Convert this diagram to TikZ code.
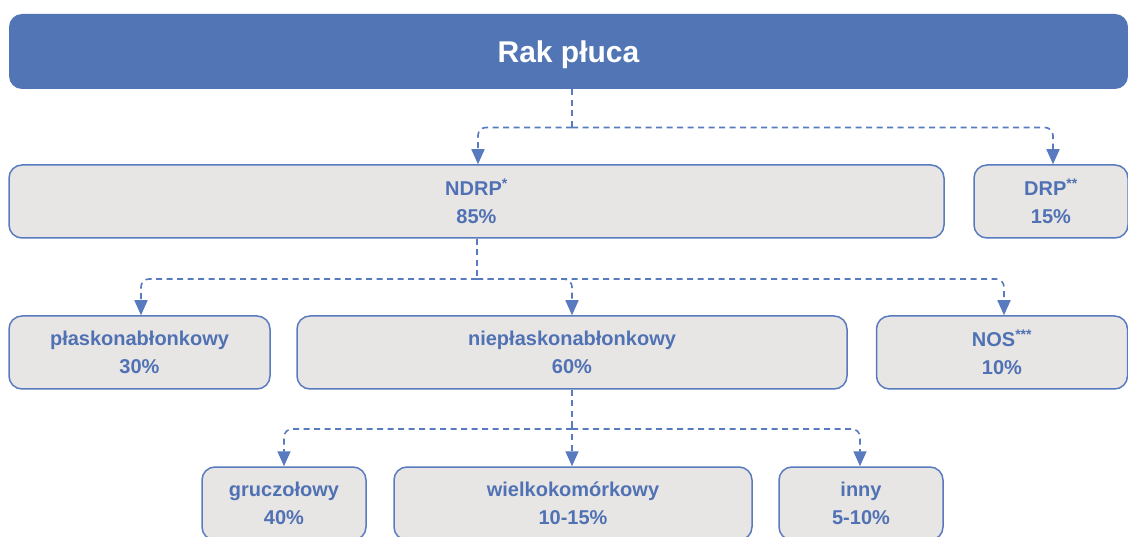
\documentclass[tikz,border=0pt]{standalone}
\usepackage{fontspec}
\setmainfont{Liberation Sans}
\usetikzlibrary{arrows.meta}
\definecolor{mainblue}{RGB}{82,118,181}
\definecolor{textblue}{RGB}{80,114,180}
\definecolor{boxgray}{RGB}{232,230,229}
\definecolor{lineblue}{RGB}{88,122,190}
\begin{document}
\begin{tikzpicture}[x=1pt,y=-1pt,
  box/.style={draw=lineblue, line width=1.5pt, fill=boxgray, rounded corners=13pt,
    text=textblue, font=\bfseries\fontsize{20}{28}\selectfont, align=center, inner sep=0pt},
  titlebar/.style={fill=mainblue, rounded corners=13pt, text=white,
    font=\bfseries\fontsize{30}{36}\selectfont, inner sep=0pt,
    text height=22pt, text depth=0pt},
  conn/.style={draw=lineblue, line width=1.6pt, dash pattern=on 6pt off 4.5pt},
  arr/.style={conn, rounded corners=8pt, -{Triangle[width=13pt,length=15pt]}}
]
\useasboundingbox (0,0) rectangle (1128,537);
\clip (0,0) rectangle (1128,537);

% title bar
\node[titlebar, minimum width=1119pt, minimum height=75pt] (top) at (568.5,51.5) {Rak płuca};

% level 1
\node[box, minimum width=935pt, minimum height=73pt] (ndrp) at (476.5,201.5) {NDRP\textsuperscript{*}\\85\%};
\node[box, minimum width=154pt, minimum height=73pt] (drp) at (1051,201.5) {DRP\textsuperscript{**}\\15\%};

% level 2
\node[box, minimum width=261pt, minimum height=73pt] (plask) at (139.5,352.5) {płaskonabłonkowy\\30\%};
\node[box, minimum width=550pt, minimum height=73pt] (niepl) at (572,352.5) {niepłaskonabłonkowy\\60\%};
\node[box, minimum width=251pt, minimum height=73pt] (nos) at (1002,352.5) {NOS\textsuperscript{***}\\10\%};

% level 3
\node[box, minimum width=164pt, minimum height=73pt] (grucz) at (284,503.5) {gruczołowy\\40\%};
\node[box, minimum width=358pt, minimum height=73pt] (wielk) at (573,503.5) {wielkokomórkowy\\10-15\%};
\node[box, minimum width=164pt, minimum height=73pt] (inny) at (861,503.5) {inny\\5-10\%};

% connectors level 1
\coordinate (j1) at (572,127.5);
\draw[conn] (top.south -| j1) -- (j1);
\draw[arr] (j1) -| ([xshift=1.5pt]ndrp.north);
\draw[arr] (j1) -| ([xshift=2pt]drp.north);

% connectors level 2
\coordinate (j2) at (477,279);
\draw[conn] (ndrp.south -| j2) -- (j2);
\draw[arr] (j2) -| ([xshift=1.5pt]plask.north);
\draw[arr] (j2) -| (niepl.north);
\draw[arr] (j2) -| ([xshift=2pt]nos.north);

% connectors level 3
\coordinate (j3) at (572,429);
\draw[conn] (niepl.south) -- (j3);
\draw[arr] (j3) -| (grucz.north);
\draw[arr] (j3) -| ([xshift=-1pt]wielk.north);
\draw[arr] (j3) -| ([xshift=-1pt]inny.north);
\end{tikzpicture}
\end{document}
